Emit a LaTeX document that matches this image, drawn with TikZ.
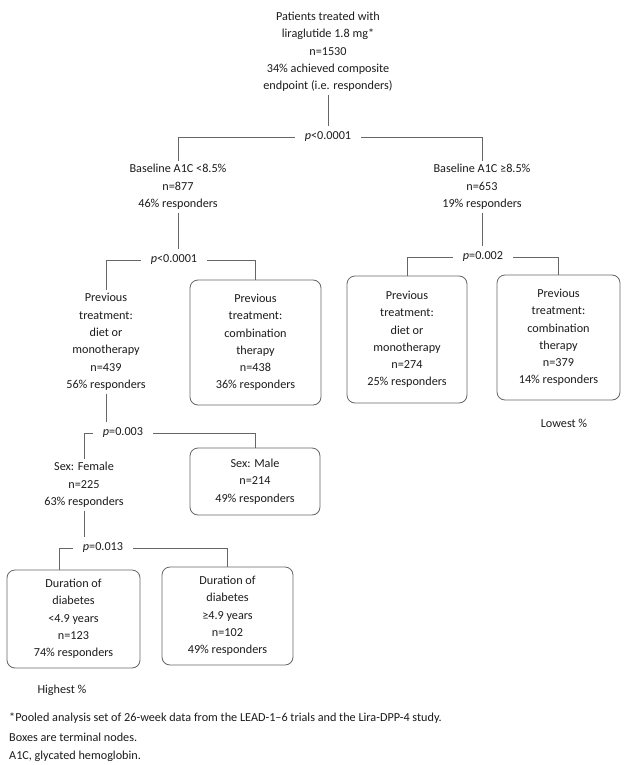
\documentclass[tikz,border=0pt]{standalone}
\usepackage{fontspec}
\setmainfont{Carlito}
\usetikzlibrary{calc}
\definecolor{txt}{HTML}{1C1C1C}
\definecolor{ln}{HTML}{666666}
\begin{document}
\begin{tikzpicture}[x=1pt,y=-1pt,
  every node/.style={text=txt,font=\fontsize{12.2}{17.3}\selectfont},
  plain/.style={align=center,inner sep=3pt},
  pval/.style={inner xsep=10pt,inner ysep=6pt},
  termbox/.style={draw=ln,line width=0.8pt,rounded corners=8pt,align=center,inner sep=2pt},
  conn/.style={draw=ln,line width=0.8pt},
  foot/.style={anchor=west,inner sep=0pt}]
\useasboundingbox[fill=white] (0,0) rectangle (626,765);

% root
\node[plain] (root) at (328,52) {Patients treated with\\liraglutide 1.8 mg*\\n=1530\\34\% achieved composite\\endpoint (i.e. responders)};
\node[pval] (p1) at (328,137) {{\itshape p}<0.0001};

% level 1
\node[plain] (A) at (178,187) {Baseline A1C <8.5\%\\n=877\\46\% responders};
\node[plain] (B) at (482,187) {Baseline A1C ≥8.5\%\\n=653\\19\% responders};
\node[pval] (p2) at (174,260) {{\itshape p}<0.0001};
\node[pval] (p3) at (483,257) {{\itshape p}=0.002};

% level 2
\node[plain] (C) at (106,342) {Previous\\treatment:\\diet or\\monotherapy\\n=439\\56\% responders};
\node[termbox,minimum width=131pt,minimum height=125pt] (B1) at (255.5,342.5) {Previous\\treatment:\\combination\\therapy\\n=438\\36\% responders};
\node[termbox,minimum width=120pt,minimum height=127pt] (B2) at (407,339.5) {Previous\\treatment:\\diet or\\monotherapy\\n=274\\25\% responders};
\node[termbox,minimum width=123pt,minimum height=125pt] (B3) at (558.5,337.5) {Previous\\treatment:\\combination\\therapy\\n=379\\14\% responders};
\node[plain] (low) at (564,423) {Lowest \%};

% level 3
\node[pval] (p4) at (123,433) {{\itshape p}=0.003};
\node[plain] (D) at (84,485) {Sex: Female\\n=225\\63\% responders};
\node[termbox,minimum width=130pt,minimum height=67pt] (B4) at (255,481.5) {Sex: Male\\n=214\\49\% responders};

% level 4
\node[pval] (p5) at (103,548) {{\itshape p}=0.013};
\node[termbox,minimum width=133pt,minimum height=98pt] (B5) at (73.5,619) {Duration of\\diabetes\\<4.9 years\\n=123\\74\% responders};
\node[termbox,minimum width=131pt,minimum height=98pt] (B6) at (227.5,616) {Duration of\\diabetes\\≥4.9 years\\n=102\\49\% responders};
\node[plain] (high) at (62,690) {Highest \%};

% footnotes
\node[foot] (f1) at (9,718) {*Pooled analysis set of 26-week data from the LEAD-1–6 trials and the Lira-DPP-4 study.};
\node[foot] (f2) at (9,737) {Boxes are terminal nodes.};
\node[foot] (f3) at (9,756) {A1C, glycated hemoglobin.};

% connectors
\draw[conn] (root.south) -- (p1.north);
\draw[conn] (p1.west) -| (A.north);
\draw[conn] (p1.east) -| (B.north);
\draw[conn] (A.south) -- (A.south |- p2.north);
\draw[conn] (p2.west) -| (C.north);
\draw[conn] (p2.east) -| (B1.north);
\draw[conn] (B.south) -- (B.south |- p3.north);
\draw[conn] (p3.west) -| (B2.north);
\draw[conn] (p3.east) -| (B3.north);
\draw[conn] (C.south) -- (C.south |- p4.north);
\draw[conn] (p4.west) -| (D.north);
\draw[conn] (p4.east) -| (B4.north);
\draw[conn] (D.south) -- (D.south |- p5.north);
\draw[conn] (p5.west) -| ([xshift=-14.5pt]B5.north);
\draw[conn] (p5.east) -| (B6.north);
\end{tikzpicture}
\end{document}
